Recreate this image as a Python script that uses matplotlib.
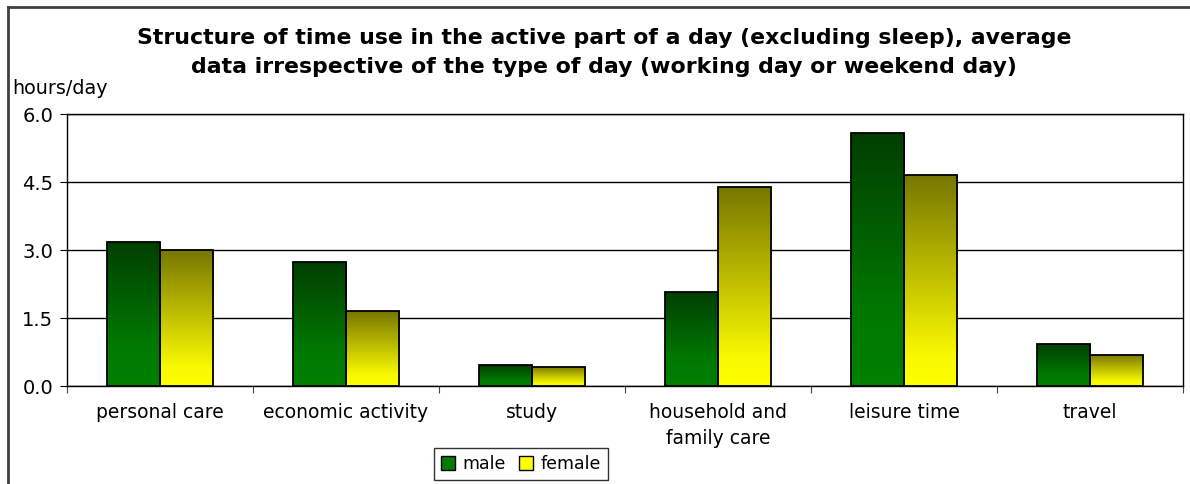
import matplotlib
matplotlib.use("Agg")
import matplotlib.pyplot as plt
import numpy as np
from matplotlib.colors import LinearSegmentedColormap
from matplotlib.lines import Line2D
from matplotlib.patches import Patch

categories = ["personal care", "economic activity", "study",
              "household and\nfamily care", "leisure time", "travel"]
male = [3.18, 2.73, 0.46, 2.07, 5.58, 0.92]
female = [3.00, 1.65, 0.42, 4.38, 4.65, 0.69]
series_labels = ["male", "female"]
y_ticks = [0.0, 1.5, 3.0, 4.5, 6.0]

plt.rcParams["font.family"] = ["DejaVu Sans"]

# gradient: bottom colour held for the lower part, then fading to the top colour
male_cmap = LinearSegmentedColormap.from_list(
    "m", [(0.0, "#008000"), (0.3, "#007800"), (1.0, "#003f00")])
female_cmap = LinearSegmentedColormap.from_list(
    "f", [(0.0, "#ffff00"), (0.15, "#f8f800"), (1.0, "#777700")])

fig = plt.figure(figsize=(11.9, 4.84), dpi=100)
ax = fig.add_axes([67 / 1190, 1 - 386 / 484, (1183 - 67) / 1190, (386 - 114) / 484])

x = np.arange(len(categories))
w = 0.2875
grad = np.linspace(0, 1, 256).reshape(-1, 1)


def gradient_bars(vals, offset, cmap):
    bars = ax.bar(x + offset, vals, w, facecolor="none", edgecolor="black",
                  linewidth=1.3, zorder=4)
    for rect in bars:
        x0, h = rect.get_x(), rect.get_height()
        im = ax.imshow(grad, cmap=cmap, origin="lower", aspect="auto",
                       extent=[x0, x0 + rect.get_width(), 0, h], zorder=3)
        im.set_clip_path(rect)
    return bars


gradient_bars(male, -w / 2, male_cmap)
gradient_bars(female, w / 2, female_cmap)

ax.set_xlim(-0.5, len(categories) - 0.5)
ax.set_ylim(0, 6)
ax.set_yticks(y_ticks)
ax.set_yticklabels([f"{t:.1f}" for t in y_ticks], fontsize=14)
ax.yaxis.grid(True, color="black", linewidth=1)
ax.set_axisbelow(True)

ax.set_xticks(np.arange(len(categories) + 1) - 0.5)
ax.set_xticklabels([])
ax.set_xticks(x, minor=True)
ax.set_xticklabels(categories, minor=True, fontsize=13.5, linespacing=1.45)
ax.tick_params(axis="x", which="minor", length=0, pad=12.5)
ax.tick_params(axis="x", which="major", length=5, color="#444444")
ax.tick_params(axis="y", length=5, pad=5)
for s in ax.spines.values():
    s.set_color("black")
    s.set_linewidth(1)

fig.text(604 / 1190, 1 - 52.5 / 484,
         "Structure of time use in the active part of a day (excluding sleep), average\n"
         "data irrespective of the type of day (working day or weekend day)",
         ha="center", va="center", fontsize=15.8, fontweight="bold", linespacing=1.6)
fig.text(12 / 1190, 1 - 88 / 484, "hours/day", ha="left", va="center", fontsize=13.8)

handles = [Patch(facecolor="#007a00", edgecolor="black"),
           Patch(facecolor="#ffff00", edgecolor="black")]
fig.legend(handles, series_labels, loc="center", bbox_to_anchor=(521 / 1190, 1 - 464 / 484),
           ncol=2, fontsize=12.5, frameon=True, fancybox=False, edgecolor="black",
           handlelength=0.8, handleheight=0.8, handletextpad=0.4, columnspacing=0.8,
           borderpad=0.4)

# outer chart frame
fig.add_artist(Line2D([8 / 1190, 8 / 1190], [0, 1 - 7 / 484], color="#404040", linewidth=2))
fig.add_artist(Line2D([8 / 1190, 1], [1 - 7 / 484, 1 - 7 / 484], color="#404040", linewidth=2))

fig.savefig("out.png", dpi=100)
